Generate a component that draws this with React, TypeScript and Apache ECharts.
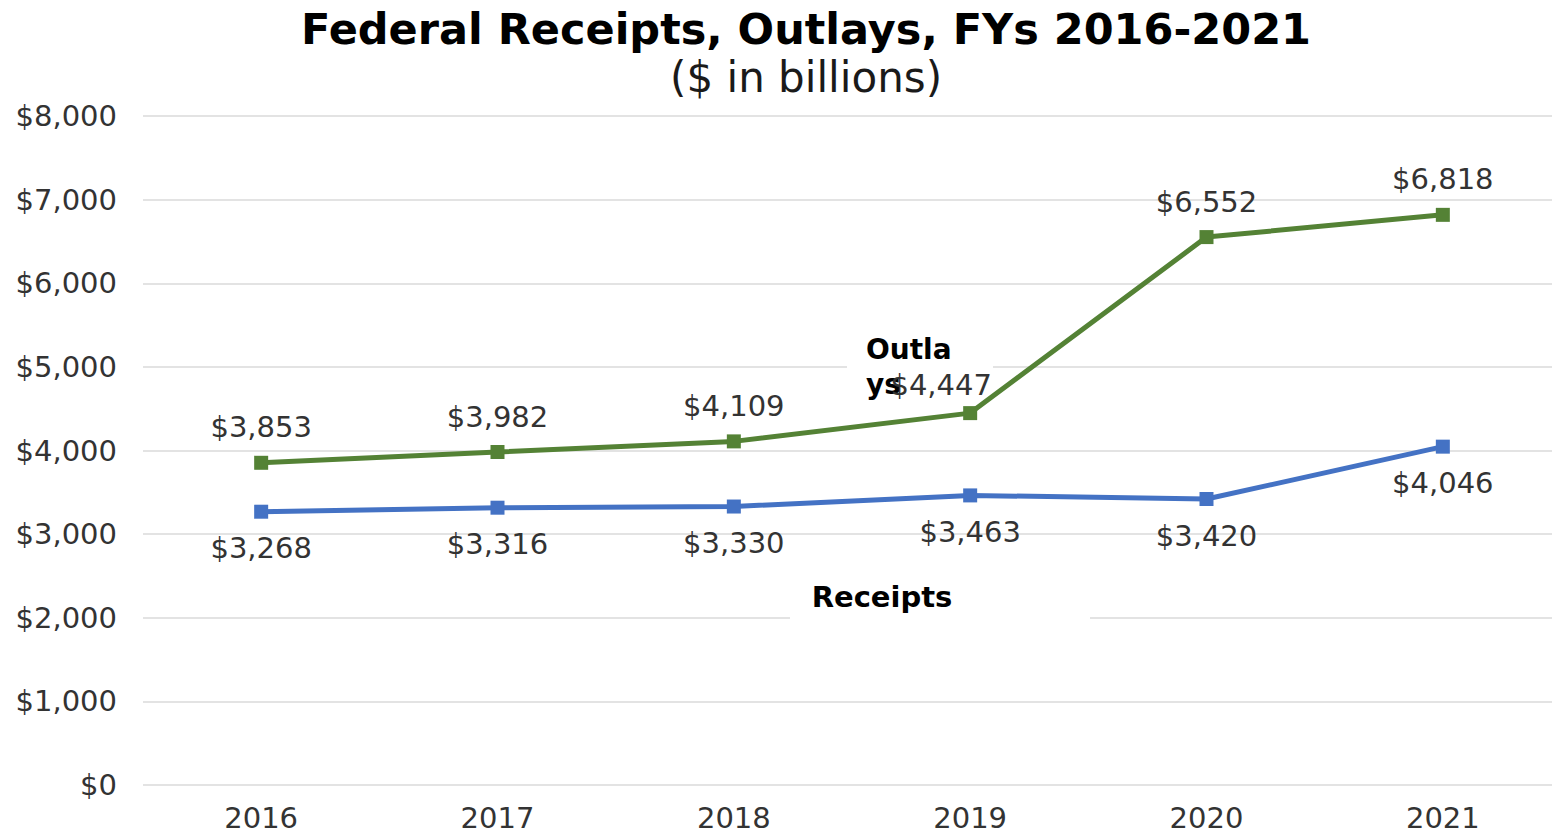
import React, { useEffect, useRef } from "react";
import * as echarts from "echarts";

const categories = ["2016", "2017", "2018", "2019", "2020", "2021"];
const outlays = [3853, 3982, 4109, 4447, 6552, 6818];
const receipts = [3268, 3316, 3330, 3463, 3420, 4046];
const yTicks = [0, 1000, 2000, 3000, 4000, 5000, 6000, 7000, 8000];

const FONT = "DejaVu Sans";
const fmt = (v: number) => "$" + v.toLocaleString("en-US");

export default function App() {
  const ref = useRef<HTMLDivElement>(null);
  useEffect(() => {
    const chart = echarts.init(ref.current!, null, { renderer: "svg" });
    const outlayData = outlays.map((v, i) =>
      i === 3 ? { value: v, label: { offset: [-29, 7] } } : v
    );
    chart.setOption({
      animation: false,
      backgroundColor: "#ffffff",
      title: {
        text: "Federal Receipts, Outlays, FYs 2016-2021",
        subtext: "($ in billions)",
        left: 801,
        textAlign: "center",
        top: 2,
        itemGap: 6,
        textStyle: { fontFamily: FONT, fontWeight: "bold", fontSize: 43, color: "#000000" },
        subtextStyle: { fontFamily: FONT, fontSize: 42, color: "#1a1a1a" },
      },
      grid: { left: 143, top: 116, width: 1418, height: 669 },
      xAxis: {
        type: "category",
        data: categories,
        boundaryGap: true,
        axisLine: { show: false },
        axisTick: { show: false },
        axisLabel: { fontFamily: FONT, fontSize: 29, color: "#333333", margin: 18 },
      },
      yAxis: {
        type: "value",
        min: yTicks[0],
        max: yTicks[yTicks.length - 1],
        interval: 1000,
        axisLine: { show: false },
        axisTick: { show: false },
        splitLine: { lineStyle: { color: "#e3e3e3", width: 2 } },
        axisLabel: { fontFamily: FONT, fontSize: 29, color: "#333333", margin: 26, formatter: (v: number) => fmt(v) },
      },
      graphic: [
        { type: "rect", z: 1, shape: { x: 847, y: 332, width: 146, height: 66 }, style: { fill: "#ffffff" } },
        { type: "text", z: 1, x: 866, y: 332, style: { text: "Outla\nys", font: `bold 28px ${FONT}`, lineHeight: 35, fill: "#000000" } },
        { type: "rect", z: 1, shape: { x: 790, y: 576, width: 300, height: 48 }, style: { fill: "#ffffff" } },
        { type: "text", z: 1, x: 882, y: 597, style: { text: "Receipts", font: `bold 29px ${FONT}`, fill: "#000000", align: "center", verticalAlign: "middle" } },
      ],
      series: [
        {
          name: "Outlays",
          type: "line",
          data: outlayData,
          z: 3,
          symbol: "rect",
          symbolSize: 14,
          lineStyle: { color: "#548235", width: 5 },
          itemStyle: { color: "#548235" },
          label: { show: true, position: "top", distance: 14, fontFamily: FONT, fontSize: 29, color: "#333333", formatter: (p: any) => fmt(p.value) },
        },
        {
          name: "Receipts",
          type: "line",
          data: receipts,
          z: 3,
          symbol: "rect",
          symbolSize: 14,
          lineStyle: { color: "#4472c4", width: 5 },
          itemStyle: { color: "#4472c4" },
          label: { show: true, position: "bottom", distance: 15, fontFamily: FONT, fontSize: 29, color: "#333333", formatter: (p: any) => fmt(p.value) },
        },
      ],
    });
    return () => chart.dispose();
  }, []);
  return (
    <div style={{ position: "fixed", left: 0, top: 0, width: 1552, height: 836, overflow: "hidden" }}>
      <div ref={ref} style={{ width: 1561, height: 836 }} />
    </div>
  );
}
